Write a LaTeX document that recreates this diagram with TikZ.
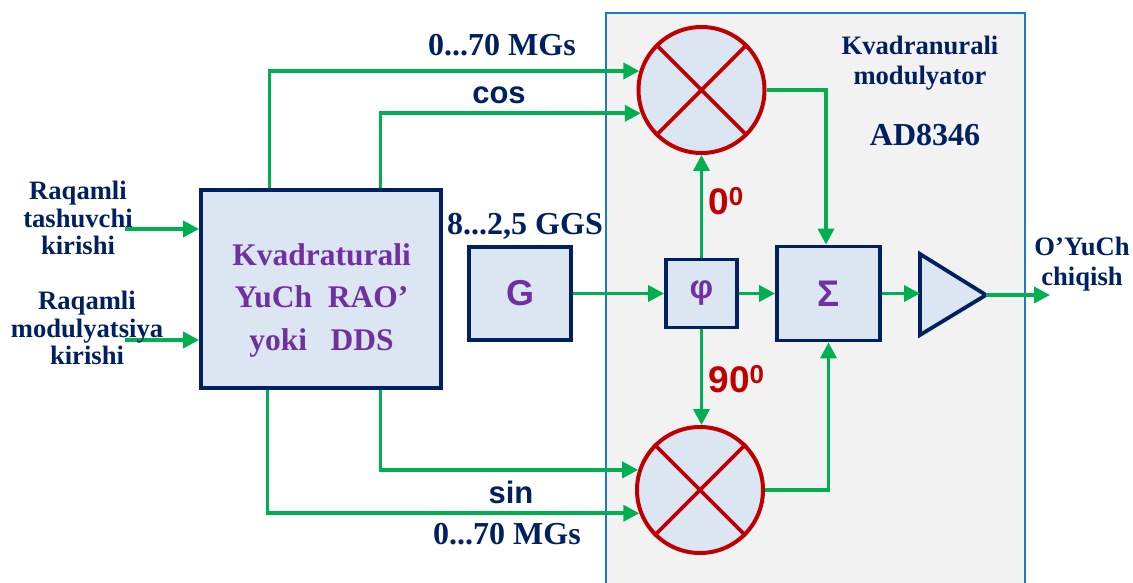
\documentclass[tikz,border=0pt]{standalone}
\usepackage{fontspec}
\setmainfont{Liberation Serif}
\newfontfamily\arialfont{Liberation Sans}
\usetikzlibrary{arrows.meta}
\definecolor{navyline}{HTML}{002060}
\definecolor{boxfill}{HTML}{DCE6F2}
\definecolor{flowgreen}{HTML}{00B050}
\definecolor{mixred}{HTML}{C00000}
\definecolor{blockpurple}{HTML}{7030A0}
\definecolor{framefill}{HTML}{F2F2F2}
\definecolor{frameblue}{HTML}{1F78C4}
\tikzset{
    block/.style={draw=navyline, fill=boxfill, line width=3.8pt, inner sep=0pt},
    mixer/.style={circle, draw=mixred, fill=boxfill, line width=4pt, inner sep=0pt, minimum size=126pt},
    flow/.style={draw=flowgreen, line width=3.6pt, -{Triangle[length=16pt,width=16pt]}},
    sidelabel/.style={text=navyline, align=center, font=\fontsize{26.6}{27.5}\selectfont\bfseries, inner sep=0pt},
    titlelabel/.style={text=navyline, align=center, font=\fontsize{26.6}{30.5}\selectfont\bfseries, inner sep=0pt},
    buslabel/.style={text=navyline, font=\fontsize{32}{34}\selectfont\bfseries, inner sep=0pt},
    arlabel/.style={text=navyline, font=\arialfont\fontsize{31}{33}\selectfont\bfseries, inner sep=0pt},
    anglelabel/.style={text=mixred, font=\arialfont\fontsize{37}{39}\selectfont\bfseries, inner sep=0pt}
}
\begin{document}
\begin{tikzpicture}[x=1pt, y=-1pt]
    \useasboundingbox (0,0) rectangle (1133,583);

    % Modulator frame
    \fill[framefill] (606,583) -- (606,13) -- (1025,13) -- (1025,583) -- cycle;
    \draw[frameblue, line width=2pt] (606,583) -- (606,13) -- (1025,13) -- (1025,583);

    % Blocks
    \node[block, minimum width=240pt, minimum height=198pt] (dds) at (321,289) {};
    \node[text=blockpurple, align=center, inner sep=0pt,
          font=\fontsize{31.5}{42.5}\selectfont\bfseries] (ddstitle) at ([xshift=0.5pt,yshift=-11pt]dds.center)
          {Kvadraturali\\YuCh\ \ RAO’\\yoki\ \ \ DDS};
    \node[block, minimum width=102pt, minimum height=93pt, text=blockpurple,
          font=\arialfont\fontsize{36}{38}\selectfont\bfseries] (gen) at (520,293.5) {G};
    \node[block, minimum width=71pt, minimum height=68pt, text=blockpurple,
          font=\arialfont\fontsize{33}{35}\selectfont\bfseries] (phase) at (701.5,293.5) {φ};
    \node[block, minimum width=103pt, minimum height=94pt, text=blockpurple,
          font=\arialfont\fontsize{37}{39}\selectfont\bfseries] (summer) at (828.5,293.5) {Σ};

    % Mixers
    \node[mixer] (mixtop) at (701.5,90) {};
    \node[mixer] (mixbot) at (700,490) {};
    \draw[mixred, line width=3.6pt] (mixtop.45) -- (mixtop.225) (mixtop.135) -- (mixtop.315);
    \draw[mixred, line width=3.6pt] (mixbot.45) -- (mixbot.225) (mixbot.135) -- (mixbot.315);

    % Amplifier
    \coordinate (ampin) at (920,293.5);
    \coordinate (amptip) at (986,295);
    \draw[navyline, fill=boxfill, line width=3.8pt, line join=miter] (920,254) -- (amptip) -- (920,335) -- cycle;

    % Free ends
    \coordinate (carrierin) at (125,229);
    \coordinate (modin) at (125,340);
    \coordinate (rfout) at (1050,295);

    % Connectors
    \draw[flow] (carrierin) -- (carrierin -| dds.west);
    \draw[flow] (modin) -- (modin -| dds.west);
    \draw[flow] ([xshift=70.5pt]dds.north west) |- (mixtop.163);
    \draw[flow] ([xshift=181.5pt]dds.north west) |- (mixtop.201);
    \draw[flow] ([xshift=181.5pt]dds.south west) |- (mixbot.162);
    \draw[flow] ([xshift=68.5pt]dds.south west) |- (mixbot.201);
    \draw[flow] (gen.east) -- (phase.west);
    \draw[flow] (phase.east) -- (summer.west);
    \draw[flow] (summer.east) -- (ampin);
    \draw[flow] (amptip) -- (rfout);
    \draw[flow] (phase.north) -- (mixtop.south);
    \draw[flow] (phase.south) -- (phase.south |- mixbot.north);
    \draw[flow] (mixtop.east) -| ([xshift=-2.5pt]summer.north);
    \draw[flow] (mixbot.east) -| (summer.south);

    % Labels
    \node[sidelabel] (carrierlbl) at (78,218) {Raqamli\\tashuvchi\\kirishi};
    \node[sidelabel] (modlbl) at (87,328) {Raqamli\\modulyatsiya\\kirishi};
    \node[buslabel] (freqtop) at (502,45) {0...70 MGs};
    \node[buslabel] (freqbot) at (507,534) {0...70 MGs};
    \node[buslabel] (freqgen) at (525,226) {8...2,5 GGS};
    \node[arlabel] (coslbl) at (499,95) {cos};
    \node[arlabel] (sinlbl) at (511,492) {sin};
    \node[anglelabel] (zerolbl) at (726,201) {0\textsuperscript{0}};
    \node[anglelabel] (ninetylbl) at (736.5,379) {90\textsuperscript{0}};
    \node[titlelabel] (modtitle) at (920,63) {Kvadranurali\\modulyator};
    \node[buslabel] (chipname) at (925,135) {AD8346};
    \node[titlelabel] (outlbl) at (1082,264) {O’YuCh\\chiqish};
\end{tikzpicture}
\end{document}
